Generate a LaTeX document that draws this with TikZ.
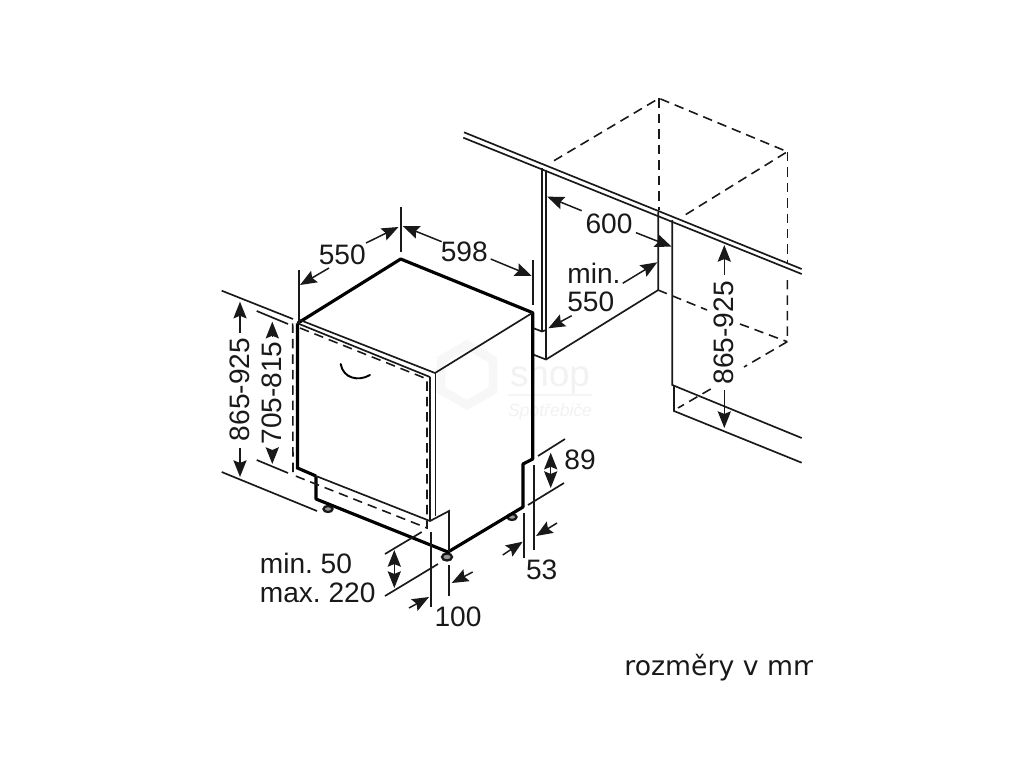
\documentclass[tikz,border=0pt]{standalone}
\usepackage{fontspec}
\setmainfont{Liberation Sans}
\newfontfamily\djv{DejaVu Sans}
\frenchspacing
\usetikzlibrary{arrows.meta}
\tikzset{
  thin line/.style={line width=0.95pt,black!90},
  thick line/.style={line width=1.8pt,black},
  dash line/.style={line width=0.9pt,black!90,dash pattern=on 5.4pt off 3.4pt},
  dim/.style={line width=0.85pt,black!90,-{Stealth[length=9.5pt,width=7.5pt,inset=1.5pt]}},
  dimboth/.style={line width=0.85pt,black!90,{Stealth[length=9.5pt,width=7.5pt,inset=1.5pt]}-{Stealth[length=9.5pt,width=7.5pt,inset=1.5pt]}},
  lab/.style={font=\fontsize{16}{18}\selectfont,text=black!90,inner sep=0pt},
  foot/.style={line width=1.3pt,draw=black!90,fill=black!40}
}
\begin{document}
\begin{tikzpicture}[x=0.02cm,y=-0.02cm]
\useasboundingbox[fill=white] (0,0) rectangle (1024,768);
% watermark
\draw[black!3,line width=5pt] (467,345) -- (493,360) -- (493,390) -- (467,405) -- (441,390) -- (441,360) -- cycle;
\node[font=\fontsize{21}{22}\selectfont,text=black!5,inner sep=0pt] (wm1) at (550,377) {shop};
\draw[black!4,line width=0.6pt] (508,395) -- (592,395);
\node[font=\fontsize{10}{12}\itshape\selectfont,text=black!5,inner sep=0pt] (wm2) at (550,412) {Spotřebiče};
% counter
\draw[thin line] (464,132.3) -- (801.7,269);
\draw[thin line] (463.3,137.7) -- (801.7,274);
% dashed niche
\draw[dash line] (554,160.7) -- (659,98.3) -- (787.3,151.7) -- (685,215);
\draw[dash line] (659,98.3) -- (659,210);
\draw[dash line] (787.3,151.7) -- (787.3,263);
\draw[dash line] (787.3,280) -- (787.3,341.7) -- (744,367);
\draw[dash line] (710.7,389) -- (678,408);
\draw[dash line] (658,290) -- (707,310);
\draw[dash line] (740,324) -- (787.3,341.7);
% left cabinet
\draw[thin line] (542,168) -- (542,331);
\draw[thin line] (546,170) -- (546,359);
\draw[thin line] (533,328) -- (542,331.5) -- (546,330);
\draw[thin line] (533,354.5) -- (546,359.5) -- (658.3,290) -- (658.3,212);
% right cabinet
\draw[thin line] (672.3,220) -- (672.3,385) -- (801.7,438);
\draw[thin line] (674,385) -- (674,411) -- (801.7,462.7);
% feet
\filldraw[foot] (328,509) ellipse (4.5 and 3);
\filldraw[foot] (512,517) ellipse (4.5 and 3);
\filldraw[foot] (447,557) ellipse (5 and 3.5);
% appliance top
\draw[thick line,line join=round] (297.5,323.3) -- (400.7,259) -- (532.7,312.7) -- (532.7,459) -- (523,464) -- (523,507) -- (448,552) -- (316,499) -- (316,477);
\draw[thick line] (297.5,323.3) -- (297.5,468) -- (316,476);
\draw[thin line] (532.7,312.7) -- (435,373);
\draw[thin line] (300,320) -- (435,373);
\draw[thin line] (297.5,323.3) -- (430,377);
\draw[thin line] (430,377) -- (430,521);
\draw[thin line] (435.5,373) -- (435.5,516);
\draw[thin line] (316,476) -- (430,521) -- (449,511) -- (449,552);
\draw[dash line] (300,328) -- (427,379) -- (427,528) -- (293,475) -- (292.7,323);
\draw[line width=1.1pt,line cap=round] (340.7,364) .. controls (343,378) and (358,382) .. (370,375);
% extension lines
\draw[thin line] (298.7,270) -- (298.7,323);
\draw[thin line] (400.7,207) -- (400.7,252);
\draw[thin line] (532.7,260) -- (532.7,305);
\draw[thin line] (221.7,290.7) -- (293,319);
\draw[thin line] (221.7,472) -- (317,511);
\draw[thin line] (256.7,311) -- (288,324);
\draw[thin line] (256.7,460) -- (288,473);
\draw[thin line] (538,456) -- (565,439);
\draw[thin line] (528,505) -- (564,483);
\draw[thin line] (524,513) -- (524,558);
\draw[thin line] (534,465) -- (534,550);
\draw[thin line] (431,532) -- (431,607);
\draw[thin line] (449,565) -- (449,596);
\draw[thin line] (385,554) -- (421.7,532);
\draw[thin line] (385,596) -- (438,564);
% arrows
\draw[dim] (329,268) -- (300,285);
\draw[dim] (366,243) -- (398.5,227);
\draw[dim] (441.7,241.7) -- (402.7,226);
\draw[dim] (490.7,259) -- (531.7,276);
\draw[dim] (240,333) -- (240,301.7);
\draw[dim] (240,448) -- (240,477);
\draw[dim] (272.3,337) -- (272.3,321.7);
\draw[dim] (272.3,450) -- (272.3,464);
\draw[dimboth] (550.7,452.7) -- (550.7,488);
\draw[dim] (502.7,555) -- (522.7,541.7);
\draw[dim] (557,523) -- (536,536);
\draw[dim] (409,608) -- (429,597);
\draw[dim] (472.7,572) -- (451.7,583);
\draw[dimboth] (394.3,550) -- (394.3,588);
\draw[dim] (581.7,210.7) -- (547.3,196.7);
\draw[dim] (636,232.7) -- (671.7,246.7);
\draw[dim] (622.7,283.3) -- (657.3,262.3);
\draw[dim] (571.7,315.7) -- (548.3,328.3);
\draw[dim] (724.3,275) -- (724.3,245);
\draw[dim] (724.3,390) -- (724.3,428);
% labels
\node[lab] (l550) at (342.3,255) {550};
\node[lab] (l598) at (464.3,252) {598};
\node[lab,rotate=90] (l865a) at (240,389.5) {865-925};
\node[lab,rotate=90] (l705) at (272.3,393) {705-815};
\node[lab] (l89) at (580,460) {89};
\node[lab] (l53) at (541.7,570) {53};
\node[lab] (l100) at (458,617) {100};
\node[lab,anchor=base west] (lmin) at (259.5,573) {min. 50};
\node[lab,anchor=base west] (lmax) at (259.5,602) {max. 220};
\node[lab] (l600) at (609,224) {600};
\node[lab,anchor=base west] (lmn) at (567,283) {min.};
\node[lab,anchor=base west] (l550b) at (567,311) {550};
\node[lab,rotate=90] (l865b) at (724.3,332.7) {865-925};
\begin{scope}
\clip (600,640) rectangle (812,690);
\node[anchor=base west,inner sep=0pt,font=\djv\fontsize{15.2}{18}\selectfont,text=black!90] (lrm) at (624,675) {rozměry v mm};
\end{scope}
\end{tikzpicture}
\end{document}
